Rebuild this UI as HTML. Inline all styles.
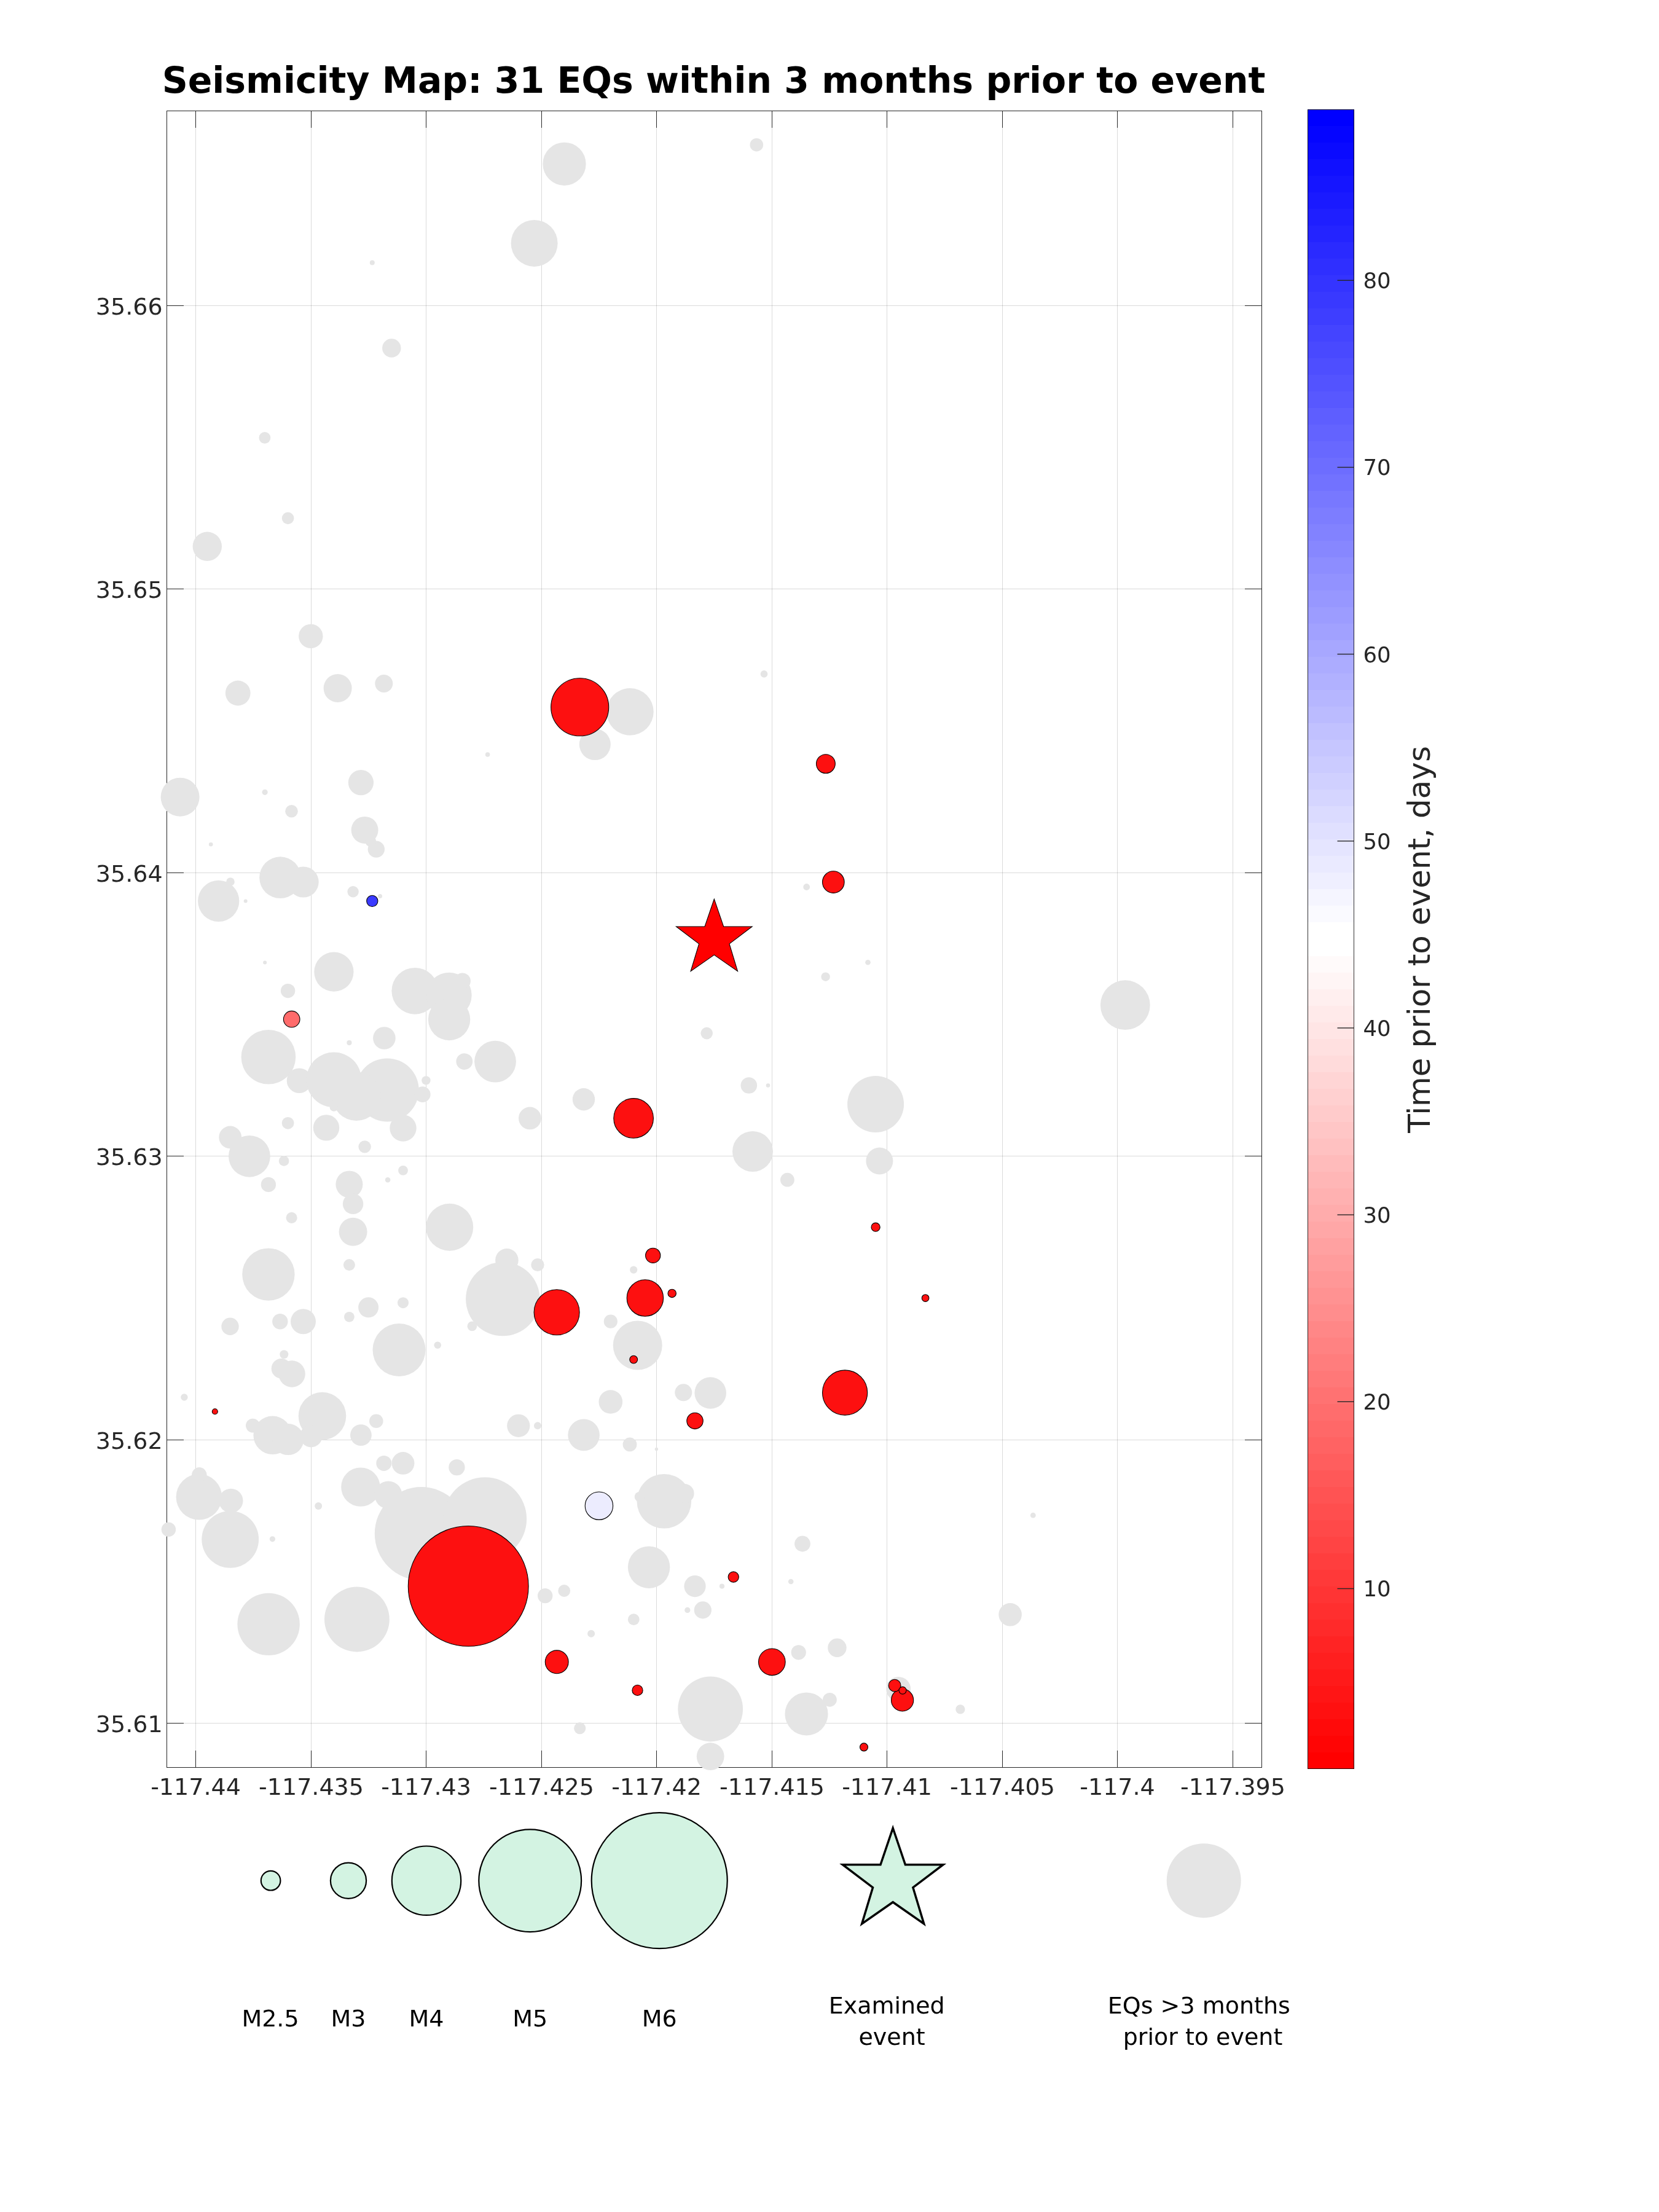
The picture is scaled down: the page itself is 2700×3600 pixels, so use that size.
<!DOCTYPE html>
<html><head><meta charset="utf-8"><title>Seismicity Map</title>
<style>
html,body{margin:0;padding:0;background:#fff;}
body{width:2700px;height:3600px;overflow:hidden;}
svg{display:block;will-change:transform;}
text{font-family:"DejaVu Sans","Liberation Sans",sans-serif;}
.tk{font-size:38.0px;fill:#262626;}
.cb{font-size:35.5px;fill:#262626;}
.lg{font-size:38.0px;fill:#000;}
</style></head><body>
<svg width="2700" height="3600" viewBox="0 0 2700 3600">
<rect width="2700" height="3600" fill="#fff"/>
<g stroke="#262626" stroke-opacity="0.17" stroke-width="1" fill="none" shape-rendering="crispEdges">
<line x1="318.5" y1="181.0" x2="318.5" y2="2876.0"/><line x1="506.5" y1="181.0" x2="506.5" y2="2876.0"/><line x1="693.5" y1="181.0" x2="693.5" y2="2876.0"/><line x1="881.5" y1="181.0" x2="881.5" y2="2876.0"/><line x1="1068.5" y1="181.0" x2="1068.5" y2="2876.0"/><line x1="1256.5" y1="181.0" x2="1256.5" y2="2876.0"/><line x1="1443.5" y1="181.0" x2="1443.5" y2="2876.0"/><line x1="1631.5" y1="181.0" x2="1631.5" y2="2876.0"/><line x1="1818.5" y1="181.0" x2="1818.5" y2="2876.0"/><line x1="2006.5" y1="181.0" x2="2006.5" y2="2876.0"/><line x1="272.0" y1="2804.5" x2="2053.0" y2="2804.5"/><line x1="272.0" y1="2343.5" x2="2053.0" y2="2343.5"/><line x1="272.0" y1="1881.5" x2="2053.0" y2="1881.5"/><line x1="272.0" y1="1420.5" x2="2053.0" y2="1420.5"/><line x1="272.0" y1="958.5" x2="2053.0" y2="958.5"/><line x1="272.0" y1="497.5" x2="2053.0" y2="497.5"/>
</g>
<g stroke="#262626" stroke-width="1" fill="none" shape-rendering="crispEdges">
<rect x="271.5" y="180.5" width="1782" height="2696"/>
<line x1="318.5" y1="2876.0" x2="318.5" y2="2849.0"/><line x1="318.5" y1="181.0" x2="318.5" y2="208.0"/><line x1="506.5" y1="2876.0" x2="506.5" y2="2849.0"/><line x1="506.5" y1="181.0" x2="506.5" y2="208.0"/><line x1="693.5" y1="2876.0" x2="693.5" y2="2849.0"/><line x1="693.5" y1="181.0" x2="693.5" y2="208.0"/><line x1="881.5" y1="2876.0" x2="881.5" y2="2849.0"/><line x1="881.5" y1="181.0" x2="881.5" y2="208.0"/><line x1="1068.5" y1="2876.0" x2="1068.5" y2="2849.0"/><line x1="1068.5" y1="181.0" x2="1068.5" y2="208.0"/><line x1="1256.5" y1="2876.0" x2="1256.5" y2="2849.0"/><line x1="1256.5" y1="181.0" x2="1256.5" y2="208.0"/><line x1="1443.5" y1="2876.0" x2="1443.5" y2="2849.0"/><line x1="1443.5" y1="181.0" x2="1443.5" y2="208.0"/><line x1="1631.5" y1="2876.0" x2="1631.5" y2="2849.0"/><line x1="1631.5" y1="181.0" x2="1631.5" y2="208.0"/><line x1="1818.5" y1="2876.0" x2="1818.5" y2="2849.0"/><line x1="1818.5" y1="181.0" x2="1818.5" y2="208.0"/><line x1="2006.5" y1="2876.0" x2="2006.5" y2="2849.0"/><line x1="2006.5" y1="181.0" x2="2006.5" y2="208.0"/><line x1="272.0" y1="2804.5" x2="299.0" y2="2804.5"/><line x1="2053.0" y1="2804.5" x2="2026.0" y2="2804.5"/><line x1="272.0" y1="2343.5" x2="299.0" y2="2343.5"/><line x1="2053.0" y1="2343.5" x2="2026.0" y2="2343.5"/><line x1="272.0" y1="1881.5" x2="299.0" y2="1881.5"/><line x1="2053.0" y1="1881.5" x2="2026.0" y2="1881.5"/><line x1="272.0" y1="1420.5" x2="299.0" y2="1420.5"/><line x1="2053.0" y1="1420.5" x2="2026.0" y2="1420.5"/><line x1="272.0" y1="958.5" x2="299.0" y2="958.5"/><line x1="2053.0" y1="958.5" x2="2026.0" y2="958.5"/><line x1="272.0" y1="497.5" x2="299.0" y2="497.5"/><line x1="2053.0" y1="497.5" x2="2026.0" y2="497.5"/>
</g>
<g fill="#e5e5e5">
<circle cx="605.8" cy="427.6" r="4.0"/><circle cx="637.3" cy="566.5" r="15.2"/><circle cx="918.5" cy="266.8" r="35.1"/><circle cx="869.6" cy="395.9" r="38.0"/><circle cx="1231.3" cy="235.7" r="10.8"/><circle cx="430.9" cy="712.5" r="9.4"/><circle cx="468.6" cy="843.4" r="9.8"/><circle cx="337.3" cy="889.3" r="23.7"/><circle cx="505.8" cy="1035.4" r="19.7"/><circle cx="387.2" cy="1128.0" r="20.4"/><circle cx="549.6" cy="1120.1" r="23.0"/><circle cx="624.8" cy="1112.5" r="14.5"/><circle cx="1025.4" cy="1158.4" r="38.3"/><circle cx="968.3" cy="1211.6" r="25.5"/><circle cx="1243.5" cy="1096.9" r="5.8"/><circle cx="293.1" cy="1297.2" r="31.5"/><circle cx="431.1" cy="1289.3" r="4.6"/><circle cx="474.5" cy="1320.2" r="10.3"/><circle cx="343.2" cy="1374.2" r="3.3"/><circle cx="587.4" cy="1273.6" r="20.6"/><circle cx="593.6" cy="1350.9" r="22.0"/><circle cx="612.3" cy="1382.1" r="13.7"/><circle cx="456.1" cy="1428.2" r="33.9"/><circle cx="493.6" cy="1435.5" r="25.1"/><circle cx="355.7" cy="1466.4" r="33.6"/><circle cx="375.0" cy="1435.0" r="6.8"/><circle cx="399.7" cy="1466.4" r="3.0"/><circle cx="574.6" cy="1451.2" r="9.2"/><circle cx="618.5" cy="1458.6" r="3.5"/><circle cx="431.1" cy="1566.5" r="3.0"/><circle cx="543.4" cy="1581.7" r="32.1"/><circle cx="468.6" cy="1612.6" r="11.7"/><circle cx="793.6" cy="1228.0" r="3.8"/><circle cx="1312.7" cy="1443.5" r="5.4"/><circle cx="1412.5" cy="1566.3" r="4.3"/><circle cx="1343.6" cy="1589.7" r="7.2"/><circle cx="1150.2" cy="1681.6" r="9.8"/><circle cx="1218.8" cy="1766.5" r="13.3"/><circle cx="1250.0" cy="1766.5" r="3.3"/><circle cx="1425.1" cy="1797.0" r="46.0"/><circle cx="436.9" cy="1720.2" r="44.3"/><circle cx="487.0" cy="1758.7" r="20.3"/><circle cx="543.4" cy="1757.3" r="44.8"/><circle cx="630.2" cy="1773.9" r="51.5"/><circle cx="580.1" cy="1784.4" r="39.6"/><circle cx="543.4" cy="1802.0" r="6.8"/><circle cx="687.7" cy="1781.2" r="12.9"/><circle cx="693.4" cy="1758.4" r="7.2"/><circle cx="625.4" cy="1689.5" r="18.3"/><circle cx="568.4" cy="1697.1" r="4.1"/><circle cx="675.3" cy="1612.8" r="37.9"/><circle cx="468.6" cy="1827.8" r="9.9"/><circle cx="531.0" cy="1835.4" r="21.2"/><circle cx="656.0" cy="1836.0" r="21.7"/><circle cx="593.6" cy="1866.4" r="10.2"/><circle cx="374.7" cy="1850.9" r="18.4"/><circle cx="405.9" cy="1881.8" r="33.9"/><circle cx="462.1" cy="1889.4" r="8.3"/><circle cx="436.9" cy="1927.9" r="12.2"/><circle cx="568.4" cy="1927.4" r="22.0"/><circle cx="574.6" cy="1959.4" r="16.7"/><circle cx="656.0" cy="1904.9" r="7.9"/><circle cx="631.1" cy="1920.3" r="4.3"/><circle cx="474.6" cy="1981.9" r="9.1"/><circle cx="574.6" cy="2004.7" r="23.0"/><circle cx="730.9" cy="1619.6" r="36.8"/><circle cx="752.6" cy="1596.7" r="13.3"/><circle cx="731.1" cy="1659.0" r="34.2"/><circle cx="806.0" cy="1727.6" r="33.9"/><circle cx="755.8" cy="1727.6" r="13.4"/><circle cx="862.4" cy="1819.9" r="18.4"/><circle cx="950.0" cy="1789.2" r="18.2"/><circle cx="1225.0" cy="1874.0" r="33.0"/><circle cx="1281.4" cy="1920.2" r="11.4"/><circle cx="1431.4" cy="1889.5" r="22.0"/><circle cx="731.7" cy="1997.2" r="38.5"/><circle cx="818.3" cy="2114.1" r="60.2"/><circle cx="824.9" cy="2050.9" r="18.8"/><circle cx="875.0" cy="2058.5" r="10.6"/><circle cx="768.4" cy="2158.3" r="7.9"/><circle cx="712.2" cy="2189.2" r="5.8"/><circle cx="1031.2" cy="2066.6" r="6.1"/><circle cx="993.8" cy="2150.7" r="11.1"/><circle cx="1037.7" cy="2189.5" r="40.0"/><circle cx="993.8" cy="2281.5" r="19.3"/><circle cx="1112.3" cy="2266.3" r="14.0"/><circle cx="843.8" cy="2320.3" r="18.6"/><circle cx="875.0" cy="2320.3" r="6.0"/><circle cx="950.1" cy="2335.4" r="25.8"/><circle cx="1025.0" cy="2350.9" r="11.4"/><circle cx="1068.4" cy="2358.5" r="2.7"/><circle cx="743.4" cy="2388.1" r="13.2"/><circle cx="436.9" cy="2074.1" r="42.7"/><circle cx="568.4" cy="2058.6" r="9.5"/><circle cx="599.6" cy="2127.8" r="16.5"/><circle cx="656.0" cy="2120.2" r="9.0"/><circle cx="568.4" cy="2143.3" r="8.4"/><circle cx="374.5" cy="2158.7" r="14.2"/><circle cx="455.8" cy="2150.8" r="12.7"/><circle cx="493.5" cy="2150.8" r="20.5"/><circle cx="649.5" cy="2197.0" r="43.0"/><circle cx="462.3" cy="2204.3" r="7.0"/><circle cx="458.0" cy="2227.3" r="16.3"/><circle cx="475.1" cy="2236.0" r="21.7"/><circle cx="299.9" cy="2274.0" r="5.7"/><circle cx="524.5" cy="2304.6" r="38.8"/><circle cx="411.4" cy="2320.1" r="11.4"/><circle cx="443.6" cy="2335.8" r="31.2"/><circle cx="468.9" cy="2342.6" r="25.5"/><circle cx="506.3" cy="2337.2" r="18.2"/><circle cx="587.4" cy="2335.6" r="17.4"/><circle cx="612.3" cy="2312.8" r="11.3"/><circle cx="624.8" cy="2381.4" r="12.5"/><circle cx="656.0" cy="2381.4" r="18.4"/><circle cx="323.9" cy="2436.3" r="37.3"/><circle cx="324.3" cy="2400.3" r="12.2"/><circle cx="375.8" cy="2442.4" r="19.7"/><circle cx="374.7" cy="2505.3" r="46.4"/><circle cx="274.4" cy="2489.3" r="11.7"/><circle cx="443.4" cy="2504.8" r="4.6"/><circle cx="518.2" cy="2451.1" r="6.0"/><circle cx="586.9" cy="2420.1" r="31.7"/><circle cx="632.0" cy="2433.0" r="22.5"/><circle cx="437.1" cy="2643.4" r="50.7"/><circle cx="580.9" cy="2635.5" r="52.9"/><circle cx="685.8" cy="2496.1" r="76.0"/><circle cx="789.3" cy="2472.1" r="67.8"/><circle cx="887.2" cy="2597.1" r="12.2"/><circle cx="918.2" cy="2589.0" r="9.9"/><circle cx="1031.3" cy="2635.7" r="9.4"/><circle cx="962.1" cy="2658.7" r="6.0"/><circle cx="1156.2" cy="2267.0" r="25.8"/><circle cx="1080.8" cy="2443.2" r="44.3"/><circle cx="1040.7" cy="2436.0" r="8.0"/><circle cx="1113.9" cy="2430.6" r="15.7"/><circle cx="1056.1" cy="2550.7" r="34.2"/><circle cx="1131.0" cy="2581.6" r="17.6"/><circle cx="1175.0" cy="2581.6" r="4.1"/><circle cx="1306.0" cy="2512.5" r="12.9"/><circle cx="1287.2" cy="2574.0" r="4.3"/><circle cx="1143.8" cy="2620.4" r="14.1"/><circle cx="1118.8" cy="2620.4" r="4.6"/><circle cx="1299.7" cy="2689.3" r="12.1"/><circle cx="1362.4" cy="2681.7" r="15.2"/><circle cx="1156.2" cy="2781.5" r="52.9"/><circle cx="1156.2" cy="2858.6" r="22.4"/><circle cx="1312.5" cy="2789.4" r="35.0"/><circle cx="1350.4" cy="2766.3" r="11.4"/><circle cx="1644.1" cy="2627.8" r="18.8"/><circle cx="1562.9" cy="2781.9" r="7.6"/><circle cx="1462.2" cy="2748.9" r="20.0"/><circle cx="1831.3" cy="1635.7" r="40.4"/><circle cx="1681.3" cy="2466.2" r="4.4"/><circle cx="943.7" cy="2812.7" r="9.6"/><circle cx="603.0" cy="1369.0" r="9.0"/>
</g>
<g stroke="#000" stroke-width="1.1">
<circle cx="943.7" cy="1150.8" r="47.0" fill="#fd1010"/><circle cx="605.8" cy="1466.4" r="9.1" fill="#3a3aff"/><circle cx="1356.3" cy="1435.6" r="17.8" fill="#fd1010"/><circle cx="1343.9" cy="1243.1" r="15.4" fill="#fd1010"/><circle cx="474.7" cy="1658.7" r="13.3" fill="#ff6b6b"/><circle cx="1031.1" cy="1819.9" r="32.3" fill="#fd1010"/><circle cx="1425.1" cy="1997.2" r="7.1" fill="#fd1010"/><circle cx="1062.7" cy="2043.3" r="12.1" fill="#fd1010"/><circle cx="1093.7" cy="2104.9" r="6.7" fill="#fd1010"/><circle cx="906.1" cy="2135.8" r="37.0" fill="#fd1010"/><circle cx="1049.9" cy="2112.5" r="29.7" fill="#fd1010"/><circle cx="1031.2" cy="2212.6" r="6.4" fill="#fd1010"/><circle cx="1131.0" cy="2312.4" r="13.2" fill="#fd1010"/><circle cx="349.8" cy="2297.3" r="4.5" fill="#fd1010"/><circle cx="762.2" cy="2581.4" r="97.9" fill="#fd1010"/><circle cx="974.9" cy="2450.7" r="22.7" fill="#ececfe"/><circle cx="906.2" cy="2704.8" r="18.9" fill="#fd1010"/><circle cx="1037.5" cy="2750.9" r="8.6" fill="#fd1010"/><circle cx="1375.1" cy="2266.5" r="36.6" fill="#fd1010"/><circle cx="1193.7" cy="2566.5" r="8.6" fill="#fd1010"/><circle cx="1256.3" cy="2704.8" r="21.8" fill="#fd1010"/><circle cx="1406.0" cy="2843.4" r="6.5" fill="#fd1010"/><circle cx="1468.6" cy="2766.9" r="18.1" fill="#fd1010"/><circle cx="1456.1" cy="2743.2" r="9.9" fill="#fd1010"/><circle cx="1469.0" cy="2751.1" r="6.0" fill="#fd1010"/><circle cx="1506.1" cy="2112.6" r="5.8" fill="#fd1010"/>
</g>
<polygon points="1162.3,1463.1 1177.6,1508.0 1224.1,1508.0 1187.0,1536.1 1200.5,1580.7 1162.3,1554.1 1124.1,1580.7 1137.6,1536.1 1100.5,1508.0 1147.0,1508.0" fill="#ff0000" stroke="#000" stroke-width="1.1" stroke-linejoin="miter"/>
<g class="tk" text-anchor="middle">
<text x="318.5" y="2921.0">-117.44</text><text x="506.5" y="2921.0">-117.435</text><text x="693.5" y="2921.0">-117.43</text><text x="881.5" y="2921.0">-117.425</text><text x="1068.5" y="2921.0">-117.42</text><text x="1256.5" y="2921.0">-117.415</text><text x="1443.5" y="2921.0">-117.41</text><text x="1631.5" y="2921.0">-117.405</text><text x="1818.5" y="2921.0">-117.4</text><text x="2006.5" y="2921.0">-117.395</text>
</g>
<g class="tk" text-anchor="end">
<text x="264.6" y="2818.9">35.61</text><text x="264.6" y="2357.9">35.62</text><text x="264.6" y="1895.9">35.63</text><text x="264.6" y="1434.9">35.64</text><text x="264.6" y="972.9">35.65</text><text x="264.6" y="511.9">35.66</text>
</g>
<text x="1161.5" y="150.9" text-anchor="middle" style="font-size:58.4px;font-weight:bold;fill:#000">Seismicity Map: 31 EQs within 3 months prior to event</text>
<g shape-rendering="crispEdges">
<rect x="2128" y="2852" width="76" height="27" fill="#ff0000"/><rect x="2128" y="2825" width="76" height="27" fill="#ff0505"/><rect x="2128" y="2798" width="76" height="27" fill="#ff0a0a"/><rect x="2128" y="2771" width="76" height="27" fill="#ff1010"/><rect x="2128" y="2744" width="76" height="27" fill="#ff1515"/><rect x="2128" y="2717" width="76" height="27" fill="#ff1a1a"/><rect x="2128" y="2690" width="76" height="27" fill="#ff1f1f"/><rect x="2128" y="2663" width="76" height="27" fill="#ff2424"/><rect x="2128" y="2636" width="76" height="27" fill="#ff2a2a"/><rect x="2128" y="2609" width="76" height="27" fill="#ff2f2f"/><rect x="2128" y="2582" width="76" height="27" fill="#ff3434"/><rect x="2128" y="2555" width="76" height="27" fill="#ff3939"/><rect x="2128" y="2528" width="76" height="27" fill="#ff3e3e"/><rect x="2128" y="2501" width="76" height="27" fill="#ff4444"/><rect x="2128" y="2474" width="76" height="27" fill="#ff4949"/><rect x="2128" y="2447" width="76" height="27" fill="#ff4e4e"/><rect x="2128" y="2420" width="76" height="27" fill="#ff5353"/><rect x="2128" y="2393" width="76" height="27" fill="#ff5858"/><rect x="2128" y="2366" width="76" height="27" fill="#ff5e5e"/><rect x="2128" y="2339" width="76" height="27" fill="#ff6363"/><rect x="2128" y="2312" width="76" height="27" fill="#ff6868"/><rect x="2128" y="2285" width="76" height="27" fill="#ff6d6d"/><rect x="2128" y="2258" width="76" height="27" fill="#ff7272"/><rect x="2128" y="2231" width="76" height="27" fill="#ff7878"/><rect x="2128" y="2204" width="76" height="27" fill="#ff7d7d"/><rect x="2128" y="2177" width="76" height="27" fill="#ff8282"/><rect x="2128" y="2150" width="76" height="27" fill="#ff8787"/><rect x="2128" y="2123" width="76" height="27" fill="#ff8d8d"/><rect x="2128" y="2096" width="76" height="27" fill="#ff9292"/><rect x="2128" y="2069" width="76" height="27" fill="#ff9797"/><rect x="2128" y="2042" width="76" height="27" fill="#ff9c9c"/><rect x="2128" y="2015" width="76" height="27" fill="#ffa1a1"/><rect x="2128" y="1988" width="76" height="27" fill="#ffa7a7"/><rect x="2128" y="1961" width="76" height="27" fill="#ffacac"/><rect x="2128" y="1934" width="76" height="27" fill="#ffb1b1"/><rect x="2128" y="1907" width="76" height="27" fill="#ffb6b6"/><rect x="2128" y="1880" width="76" height="27" fill="#ffbbbb"/><rect x="2128" y="1853" width="76" height="27" fill="#ffc1c1"/><rect x="2128" y="1826" width="76" height="27" fill="#ffc6c6"/><rect x="2128" y="1799" width="76" height="27" fill="#ffcbcb"/><rect x="2128" y="1772" width="76" height="27" fill="#ffd0d0"/><rect x="2128" y="1745" width="76" height="27" fill="#ffd5d5"/><rect x="2128" y="1718" width="76" height="27" fill="#ffdbdb"/><rect x="2128" y="1691" width="76" height="27" fill="#ffe0e0"/><rect x="2128" y="1664" width="76" height="27" fill="#ffe5e5"/><rect x="2128" y="1637" width="76" height="27" fill="#ffeaea"/><rect x="2128" y="1610" width="76" height="27" fill="#ffefef"/><rect x="2128" y="1583" width="76" height="27" fill="#fff5f5"/><rect x="2128" y="1556" width="76" height="27" fill="#fffafa"/><rect x="2128" y="1528" width="76" height="28" fill="#ffffff"/><rect x="2128" y="1501" width="76" height="27" fill="#ffffff"/><rect x="2128" y="1474" width="76" height="27" fill="#fafaff"/><rect x="2128" y="1447" width="76" height="27" fill="#f5f5ff"/><rect x="2128" y="1420" width="76" height="27" fill="#efefff"/><rect x="2128" y="1393" width="76" height="27" fill="#eaeaff"/><rect x="2128" y="1366" width="76" height="27" fill="#e5e5ff"/><rect x="2128" y="1339" width="76" height="27" fill="#e0e0ff"/><rect x="2128" y="1312" width="76" height="27" fill="#dbdbff"/><rect x="2128" y="1285" width="76" height="27" fill="#d5d5ff"/><rect x="2128" y="1258" width="76" height="27" fill="#d0d0ff"/><rect x="2128" y="1231" width="76" height="27" fill="#cbcbff"/><rect x="2128" y="1204" width="76" height="27" fill="#c6c6ff"/><rect x="2128" y="1177" width="76" height="27" fill="#c1c1ff"/><rect x="2128" y="1150" width="76" height="27" fill="#bbbbff"/><rect x="2128" y="1123" width="76" height="27" fill="#b6b6ff"/><rect x="2128" y="1096" width="76" height="27" fill="#b1b1ff"/><rect x="2128" y="1069" width="76" height="27" fill="#acacff"/><rect x="2128" y="1042" width="76" height="27" fill="#a7a7ff"/><rect x="2128" y="1015" width="76" height="27" fill="#a1a1ff"/><rect x="2128" y="988" width="76" height="27" fill="#9c9cff"/><rect x="2128" y="961" width="76" height="27" fill="#9797ff"/><rect x="2128" y="934" width="76" height="27" fill="#9292ff"/><rect x="2128" y="907" width="76" height="27" fill="#8d8dff"/><rect x="2128" y="880" width="76" height="27" fill="#8787ff"/><rect x="2128" y="853" width="76" height="27" fill="#8282ff"/><rect x="2128" y="826" width="76" height="27" fill="#7d7dff"/><rect x="2128" y="799" width="76" height="27" fill="#7878ff"/><rect x="2128" y="772" width="76" height="27" fill="#7272ff"/><rect x="2128" y="745" width="76" height="27" fill="#6d6dff"/><rect x="2128" y="718" width="76" height="27" fill="#6868ff"/><rect x="2128" y="691" width="76" height="27" fill="#6363ff"/><rect x="2128" y="664" width="76" height="27" fill="#5e5eff"/><rect x="2128" y="637" width="76" height="27" fill="#5858ff"/><rect x="2128" y="610" width="76" height="27" fill="#5353ff"/><rect x="2128" y="583" width="76" height="27" fill="#4e4eff"/><rect x="2128" y="556" width="76" height="27" fill="#4949ff"/><rect x="2128" y="529" width="76" height="27" fill="#4444ff"/><rect x="2128" y="502" width="76" height="27" fill="#3e3eff"/><rect x="2128" y="475" width="76" height="27" fill="#3939ff"/><rect x="2128" y="448" width="76" height="27" fill="#3434ff"/><rect x="2128" y="421" width="76" height="27" fill="#2f2fff"/><rect x="2128" y="394" width="76" height="27" fill="#2a2aff"/><rect x="2128" y="367" width="76" height="27" fill="#2424ff"/><rect x="2128" y="340" width="76" height="27" fill="#1f1fff"/><rect x="2128" y="313" width="76" height="27" fill="#1a1aff"/><rect x="2128" y="286" width="76" height="27" fill="#1515ff"/><rect x="2128" y="259" width="76" height="27" fill="#1010ff"/><rect x="2128" y="232" width="76" height="27" fill="#0a0aff"/><rect x="2128" y="205" width="76" height="27" fill="#0505ff"/><rect x="2128" y="178" width="76" height="27" fill="#0000ff"/>
</g>
<rect x="2128.5" y="178.5" width="75.0" height="2700.0" fill="none" stroke="#000" stroke-opacity="0.8" stroke-width="1" shape-rendering="crispEdges"/>
<g stroke="#262626" stroke-width="1.4">
<line x1="2204.0" y1="2585.5" x2="2176.5" y2="2585.5"/><line x1="2204.0" y1="2281.3" x2="2176.5" y2="2281.3"/><line x1="2204.0" y1="1977.1" x2="2176.5" y2="1977.1"/><line x1="2204.0" y1="1673.0" x2="2176.5" y2="1673.0"/><line x1="2204.0" y1="1368.8" x2="2176.5" y2="1368.8"/><line x1="2204.0" y1="1064.6" x2="2176.5" y2="1064.6"/><line x1="2204.0" y1="760.5" x2="2176.5" y2="760.5"/><line x1="2204.0" y1="456.3" x2="2176.5" y2="456.3"/>
</g>
<g class="cb">
<text x="2218.5" y="2598.4">10</text><text x="2218.5" y="2294.2">20</text><text x="2218.5" y="1990.0">30</text><text x="2218.5" y="1685.9">40</text><text x="2218.5" y="1381.7">50</text><text x="2218.5" y="1077.5">60</text><text x="2218.5" y="773.4">70</text><text x="2218.5" y="469.2">80</text>
</g>
<text transform="translate(2327.0,1528.9) rotate(-90)" text-anchor="middle" style="font-size:50.0px;fill:#262626">Time prior to event, days</text>
<g fill="#d3f3e2" stroke="#000" stroke-width="2.2">
<circle cx="440.6" cy="3060.7" r="15.8"/><circle cx="567.0" cy="3060.7" r="29.1"/><circle cx="694.0" cy="3060.7" r="56.2"/><circle cx="862.7" cy="3060.7" r="83.4"/><circle cx="1073.2" cy="3060.7" r="110.5"/>
</g>
<polygon points="1453.2,2975.3 1473.4,3034.7 1535.0,3034.7 1485.9,3071.9 1503.7,3130.9 1453.2,3095.7 1402.7,3130.9 1420.5,3071.9 1371.4,3034.7 1433.0,3034.7" fill="#d3f3e2" stroke="#000" stroke-width="3.5" stroke-linejoin="miter"/>
<circle cx="1959.2" cy="3060.7" r="60.5" fill="#e5e5e5"/>
<g class="lg" text-anchor="middle">
<text x="440.0" y="3297.6">M2.5</text><text x="567.0" y="3297.6">M3</text><text x="694.0" y="3297.6">M4</text><text x="862.7" y="3297.6">M5</text><text x="1073.2" y="3297.6">M6</text><text x="1443.2" y="3277.2">Examined</text><text x="1451.6" y="3327.7">event</text><text x="1951.3" y="3277.2">EQs &gt;3 months</text><text x="1957.5" y="3327.7">prior to event</text>
</g>
</svg>
</body></html>
